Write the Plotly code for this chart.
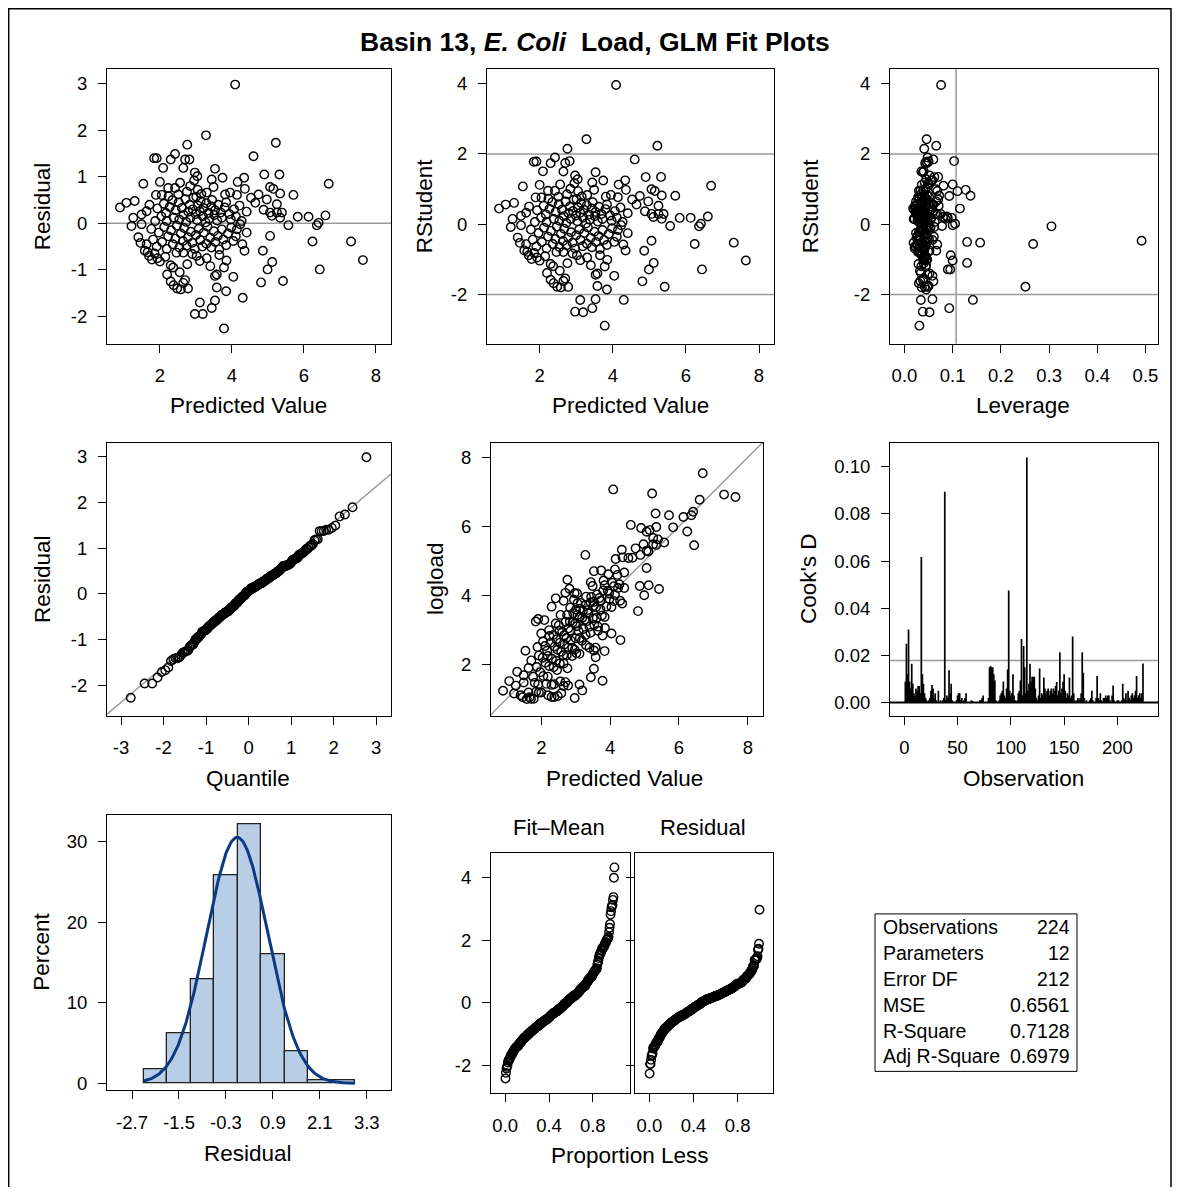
import numpy as np
import plotly.graph_objects as go
from statistics import NormalDist

OFF = 8                      # page margin of the browser body
W, H = 1181 - OFF, 1195 - 2 * OFF
FONT = "Liberation Sans, Arial, sans-serif"

# ---------------- data ----------------
predicted = [
    # residual >= 1.2
    4.09, 3.28, 2.76, 5.22, 4.60, 1.84, 1.91, 2.30, 2.42, 2.70, 2.82,
    # residual 0.6 .. 1.2
    2.09, 2.65, 2.97, 3.04, 3.53, 3.74, 3.44, 4.90, 5.32, 4.34, 4.16, 6.69,
    1.54, 2.00, 2.56, 2.23, 2.42, 2.84, 3.49, 4.36, 5.06, 5.15, 5.71, 5.34,
    3.81, 3.95, 4.14, 4.74, 1.89, 2.05, 2.51, 2.75, 3.05, 3.30, 2.95, 3.15,
    # residual 0 .. 0.6
    0.89, 1.07, 1.30, 4.65, 4.97, 5.25, 4.88, 5.06, 5.25, 5.39, 5.11, 5.34,
    5.83, 6.13, 6.60, 6.41, 1.26, 1.49, 1.63,
    1.87, 1.93, 2.04, 2.11, 2.17, 2.19, 2.27, 2.35, 2.39, 2.44, 2.52, 2.54,
    2.61, 2.66, 2.71, 2.73, 2.79, 2.83, 2.85, 2.91, 2.93, 2.99, 3.03, 3.05,
    3.11, 3.13, 3.19, 3.21, 3.27, 3.29, 3.35, 3.37, 3.43, 3.45, 3.51, 3.53,
    3.59, 3.62, 3.69, 3.72, 3.80, 3.84, 3.93, 3.97, 4.06, 4.11, 4.21, 4.27,
    4.41, 4.53, 1.71, 2.24, 3.01,
    # residual -0.6 .. 0
    5.57, 6.36, 1.21, 1.49, 6.24, 7.31, 4.41, 4.14, 4.23, 5.06, 4.35, 4.86,
    1.40, 1.46, 1.63, 1.58,
    1.76, 1.81, 1.91, 1.97, 2.06, 2.12, 2.19, 2.23, 2.31, 2.36, 2.43, 2.47,
    2.54, 2.58, 2.64, 2.67, 2.74, 2.78, 2.86, 2.90, 2.97, 3.00, 3.08, 3.12,
    3.18, 3.22, 3.29, 3.32, 3.40, 3.43, 3.50, 3.54, 3.61, 3.65, 3.72, 3.76,
    3.84, 3.89, 3.98, 4.04, 4.11, 4.29,
    # residual -1.2 .. -0.6
    2.37, 2.76, 3.53, 3.58, 3.78, 4.04, 5.12, 4.99, 6.44, 7.64, 2.46, 2.65,
    3.02, 3.11, 1.70, 1.78, 1.85, 1.93, 2.00, 1.66, 2.20, 2.30, 2.90, 3.30,
    3.40, 3.65, 3.85, 2.55, 2.15,
    # residual -1.8 .. -1.2
    3.11, 3.53, 3.84, 3.58, 4.30, 4.81, 5.42, 2.30, 2.38, 2.48, 2.58, 2.78,
    2.65, 2.70,
    # residual < -1.8
    3.78, 2.97, 3.19, 3.44,
]

residual = [
    2.98, 1.89, 1.69, 1.73, 1.44, 1.40, 1.40, 1.37, 1.49, 1.37, 1.37,
    1.19, 1.19, 1.09, 1.01, 1.17, 0.98, 0.94, 1.05, 1.05, 0.98, 0.89, 0.85,
    0.85, 0.89, 0.87, 0.76, 0.76, 0.80, 0.78, 0.74, 0.78, 0.74, 0.61, 0.64,
    0.62, 0.66, 0.61, 0.62, 0.61, 0.61, 0.62, 0.68, 0.72, 0.66, 0.92, 0.63,
    0.34, 0.44, 0.48, 0.44, 0.51, 0.41, 0.29, 0.23, 0.23, 0.23, 0.16, 0.12,
    0.14, 0.14, 0.17, 0.01, 0.12, 0.19, 0.26,
    0.05, 0.32, 0.15, 0.42, 0.22, 0.05, 0.35, 0.50, 0.12, 0.28, 0.45, 0.08,
    0.33, 0.18, 0.52, 0.03, 0.25, 0.40, 0.12, 0.30, 0.55, 0.20, 0.07, 0.38,
    0.26, 0.48, 0.15, 0.33, 0.02, 0.43, 0.22, 0.10, 0.36, 0.50, 0.18, 0.28,
    0.06, 0.40, 0.23, 0.12, 0.34, 0.45, 0.20, 0.08, 0.30, 0.15, 0.38, 0.05,
    0.25, 0.55, 0.40, 0.58, 0.57,
    -0.04, -0.04, -0.06, -0.02, -0.39, -0.39, -0.20, -0.13, -0.02, -0.27, -0.59, -0.59,
    -0.30, -0.42, -0.45, -0.59,
    -0.12, -0.35, -0.50, -0.20, -0.40, -0.08, -0.55, -0.28, -0.15, -0.45, -0.33, -0.05,
    -0.52, -0.22, -0.38, -0.10, -0.48, -0.30, -0.18, -0.42, -0.55, -0.25, -0.12, -0.36,
    -0.50, -0.20, -0.44, -0.07, -0.31, -0.52, -0.17, -0.40, -0.27, -0.56, -0.13, -0.35,
    -0.47, -0.22, -0.09, -0.38, -0.28, -0.45,
    -0.95, -0.88, -1.13, -1.10, -0.95, -1.15, -0.83, -0.99, -0.99, -0.79, -0.63, -0.63,
    -0.70, -0.81, -0.70, -0.78, -0.65, -0.75, -0.82, -0.62, -1.10, -0.90, -0.66, -0.75,
    -0.92, -0.68, -0.80, -1.05, -0.72,
    -1.70, -1.66, -1.46, -1.38, -1.60, -1.27, -1.24, -1.25, -1.33, -1.40, -1.42, -1.40,
    -1.28, -1.22,
    -2.26, -1.95, -1.95, -1.82,
]

leverage = [
    0.076, 0.046, 0.041, 0.066, 0.060, 0.045, 0.050, 0.043, 0.048, 0.047, 0.103,
    0.040, 0.035, 0.052, 0.045, 0.038, 0.055, 0.042, 0.062, 0.070, 0.058, 0.050, 0.081,
    0.048, 0.036, 0.100, 0.030, 0.033, 0.044, 0.039, 0.127, 0.065, 0.068, 0.137, 0.072,
    0.051, 0.047, 0.042, 0.093, 0.031, 0.028, 0.037, 0.034, 0.110, 0.041, 0.049, 0.036,
    0.115, 0.060, 0.052, 0.058, 0.066, 0.071, 0.060, 0.075, 0.064, 0.068, 0.080, 0.085,
    0.090, 0.098, 0.088, 0.105, 0.055, 0.045, 0.040,
    0.030, 0.025, 0.038, 0.022, 0.045, 0.033, 0.028, 0.041, 0.019, 0.036, 0.050, 0.027,
    0.032, 0.044, 0.024, 0.039, 0.029, 0.053, 0.021, 0.035, 0.047, 0.026, 0.031, 0.042,
    0.023, 0.037, 0.055, 0.020, 0.034, 0.046, 0.028, 0.040, 0.018, 0.033, 0.049, 0.026,
    0.038, 0.022, 0.043, 0.030, 0.057, 0.025, 0.036, 0.048, 0.027, 0.041, 0.032, 0.063,
    0.039, 0.070, 0.035, 0.029, 0.044,
    0.078, 0.305, 0.062, 0.050, 0.267, 0.157, 0.045, 0.040, 0.100, 0.492, 0.052, 0.066,
    0.048, 0.043, 0.038, 0.041,
    0.034, 0.029, 0.042, 0.024, 0.037, 0.046, 0.021, 0.032, 0.039, 0.027, 0.051, 0.035,
    0.023, 0.044, 0.030, 0.040, 0.026, 0.048, 0.033, 0.019, 0.038, 0.028, 0.045, 0.031,
    0.022, 0.041, 0.036, 0.054, 0.025, 0.043, 0.030, 0.047, 0.027, 0.039, 0.035, 0.058,
    0.032, 0.044, 0.050, 0.130, 0.061, 0.068,
    0.035, 0.040, 0.048, 0.052, 0.044, 0.058, 0.130, 0.095, 0.090, 0.100, 0.030, 0.028,
    0.036, 0.039, 0.042, 0.046, 0.033, 0.038, 0.041, 0.050, 0.034, 0.029, 0.037, 0.043,
    0.045, 0.096, 0.047, 0.032, 0.044,
    0.034, 0.058, 0.045, 0.050, 0.142, 0.060, 0.251, 0.038, 0.030, 0.042, 0.036, 0.048,
    0.033, 0.040,
    0.031, 0.038, 0.052, 0.093,
]

# Cook's D in observation order 1..224
cooks_d = [
    0.009, 0.025, 0.012, 0.031, 0.009, 0.006, 0.0165, 0.008, 0.004, 0.003, 0.006, 0.005, 0.007, 0.007, 0.004, 0.0617,
    0.012, 0.008, 0.004, 0.002, 0.001, 0.000, 0.001, 0.002, 0.005, 0.0075, 0.006, 0.002, 0.004, 0.001, 0.000, 0.005,
    0.000, 0.001, 0.000, 0.001, 0.002, 0.0894, 0.001, 0.003, 0.002, 0.0137, 0.004, 0.008, 0.001, 0.000, 0.000, 0.000,
    0.001, 0.003, 0.004, 0.004, 0.001, 0.002, 0.000, 0.001, 0.002, 0.004, 0.000, 0.000, 0.000, 0.000, 0.001, 0.0007,
    0.000, 0.000, 0.000, 0.000, 0.000, 0.000, 0.001, 0.001, 0.002, 0.003, 0.000, 0.000, 0.000, 0.000, 0.002, 0.015,
    0.0155, 0.015, 0.015, 0.012, 0.0094, 0.001, 0.000, 0.000, 0.001, 0.003, 0.004, 0.005, 0.009, 0.003, 0.002, 0.006,
    0.014, 0.0475, 0.005, 0.003, 0.004, 0.012, 0.003, 0.001, 0.000, 0.001, 0.004, 0.005, 0.0094, 0.027, 0.003, 0.024,
    0.015, 0.004, 0.104, 0.005, 0.008, 0.0165, 0.009, 0.011, 0.011, 0.011, 0.006, 0.002, 0.001, 0.003, 0.0145, 0.002,
    0.004, 0.003, 0.0106, 0.006, 0.004, 0.005, 0.006, 0.003, 0.005, 0.006, 0.004, 0.006, 0.005, 0.007, 0.0087, 0.003,
    0.005, 0.0214, 0.004, 0.006, 0.009, 0.012, 0.005, 0.002, 0.004, 0.003, 0.0106, 0.002, 0.003, 0.028, 0.004, 0.001,
    0.000, 0.001, 0.002, 0.001, 0.002, 0.004, 0.0214, 0.0127, 0.002, 0.000, 0.001, 0.000, 0.000, 0.001, 0.002, 0.005,
    0.001, 0.000, 0.000, 0.002, 0.0113, 0.002, 0.001, 0.004, 0.001, 0.000, 0.002, 0.002, 0.003, 0.002, 0.003, 0.003,
    0.001, 0.000, 0.003, 0.0073, 0.001, 0.000, 0.000, 0.001, 0.001, 0.000, 0.000, 0.001, 0.008, 0.002, 0.001, 0.004,
    0.001, 0.005, 0.002, 0.001, 0.003, 0.004, 0.002, 0.003, 0.005, 0.0113, 0.002, 0.003, 0.004, 0.002, 0.004, 0.0166,
]

n_params = 12
mse = 0.6561
stat_labels = ["Observations", "Parameters", "Error DF", "MSE", "R-Square", "Adj R-Square"]
stat_values = ["224", "12", "212", "0.6561", "0.7128", "0.6979"]
hist_ticks = [-2.7, -1.5, -0.3, 0.9, 2.1, 3.3]

# ---------------- derived statistics ----------------
pred = np.array(predicted)
res = np.array(residual)
lev = np.array(leverage)
n = len(res)
logload = pred + res
r_std = res / np.sqrt(mse * (1 - lev))
rstudent = r_std * np.sqrt((n - n_params - 1) / (n - n_params - r_std ** 2))
res_sorted = np.sort(res)
nd = NormalDist()
quant = np.array([nd.inv_cdf((i - 0.375) / (n + 0.25)) for i in range(1, n + 1)])
res_mean, res_sd = res.mean(), res.std(ddof=1)
prop = (np.arange(1, n + 1) - 0.5) / n
fit_mean_sorted = np.sort(pred - logload.mean())
obs = np.arange(1, len(cooks_d) + 1)
lev_cut = 2 * n_params / n
cook_cut = 4 / n

# ---------------- layout helpers (pixel positions are page pixels) ----------------
def px(x):
    return (x - OFF) / W

def py(y):
    return 1 - (y - OFF) / H

def dx(x0, x1):
    return [px(x0), px(x1)]

def dy(y0, y1):
    return [py(y1), py(y0)]

def axis(domain, rng, tickvals, anchor, decimals=0, labels=True):
    return dict(
        domain=domain, range=rng, anchor=anchor, showline=True, mirror=True,
        linecolor="black", linewidth=1, ticks="outside", ticklen=8, tickwidth=1,
        tickcolor="black", tickvals=tickvals,
        ticktext=[f"{v:.{decimals}f}" for v in tickvals],
        showticklabels=labels, ticklabelstandoff=7,
        tickfont=dict(family=FONT, size=18.5, color="black"),
        showgrid=False, zeroline=False, fixedrange=True,
    )

MK = dict(symbol="circle-open", size=8.5, color="black", line=dict(width=1.4, color="black"))
GRAY = "#9a9a9a"

fig = go.Figure()

# P1 residual vs predicted
fig.add_trace(go.Scatter(x=pred, y=res, mode="markers", marker=MK, xaxis="x", yaxis="y"))
# P2 rstudent vs predicted
fig.add_trace(go.Scatter(x=pred, y=rstudent, mode="markers", marker=MK, xaxis="x2", yaxis="y2"))
# P3 rstudent vs leverage
fig.add_trace(go.Scatter(x=lev, y=rstudent, mode="markers", marker=MK, xaxis="x3", yaxis="y3"))
# P4 Q-Q
X4 = [-3.33, 3.35]
fig.add_trace(go.Scatter(x=X4, y=[res_mean + res_sd * v for v in X4], mode="lines",
                         line=dict(color=GRAY, width=1.5), xaxis="x4", yaxis="y4"))
fig.add_trace(go.Scatter(x=quant, y=res_sorted, mode="markers", marker=MK, xaxis="x4", yaxis="y4"))
# P5 observed vs predicted
X5 = [0.4, 8.6]
fig.add_trace(go.Scatter(x=X5, y=X5, mode="lines", line=dict(color=GRAY, width=1.5),
                         xaxis="x5", yaxis="y5"))
fig.add_trace(go.Scatter(x=pred, y=logload, mode="markers", marker=MK, xaxis="x5", yaxis="y5"))
# P6 Cook's D needles
nx, ny = [], []
for o, d in zip(obs, cooks_d):
    nx += [o, o, None]
    ny += [0, d, None]
fig.add_trace(go.Scatter(x=nx, y=ny, mode="lines", line=dict(color="black", width=1.7),
                         xaxis="x6", yaxis="y6"))
# P7 histogram + normal curve
fig.add_trace(go.Histogram(x=res, xbins=dict(start=-2.4, end=3.0, size=0.6), histnorm="percent",
                           marker=dict(color="#B8CEE6", line=dict(color="#222222", width=1.3)),
                           xaxis="x7", yaxis="y7"))
xc = np.linspace(-2.4, 3.0, 200)
yc = [100 * 0.6 * NormalDist(res_mean, res_sd).pdf(v) for v in xc]
fig.add_trace(go.Scatter(x=xc, y=yc, mode="lines", line=dict(color="#0B3A82", width=3),
                         xaxis="x7", yaxis="y7"))
# P8 residual-fit spread
fig.add_trace(go.Scatter(x=prop, y=fit_mean_sorted, mode="markers", marker=MK, xaxis="x8", yaxis="y8"))
fig.add_trace(go.Scatter(x=prop, y=res_sorted, mode="markers", marker=MK, xaxis="x9", yaxis="y9"))

P1 = (107, 391, 69, 345); P2 = (487, 774, 69, 345); P3 = (890, 1158, 69, 345)
P4 = (107, 391, 444, 718); P5 = (491, 763, 444, 718); P6 = (890, 1158, 444, 718)
P7 = (107, 391, 818, 1094); P8a = (491, 630, 856, 1097); P8b = (635, 773, 856, 1097)

layout = dict(
    width=W, height=H, margin=dict(l=0, r=0, t=0, b=0), showlegend=False,
    paper_bgcolor="white", plot_bgcolor="white", font=dict(family=FONT, color="black"),
    bargap=0,
    xaxis=axis(dx(*P1[:2]), [0.53, 8.42], [2, 4, 6, 8], "y"),
    yaxis=axis(dy(*P1[2:]), [-2.59, 3.32], [-2, -1, 0, 1, 2, 3], "x"),
    xaxis2=axis(dx(*P2[:2]), [0.56, 8.41], [2, 4, 6, 8], "y2"),
    yaxis2=axis(dy(*P2[2:]), [-3.40, 4.42], [-2, 0, 2, 4], "x2"),
    xaxis3=axis(dx(*P3[:2]), [-0.030, 0.526], [0, 0.1, 0.2, 0.3, 0.4, 0.5], "y3", decimals=1),
    yaxis3=axis(dy(*P3[2:]), [-3.40, 4.42], [-2, 0, 2, 4], "x3"),
    xaxis4=axis(dx(*P4[:2]), [-3.33, 3.35], [-3, -2, -1, 0, 1, 2, 3], "y4"),
    yaxis4=axis(dy(*P4[2:]), [-2.65, 3.30], [-2, -1, 0, 1, 2, 3], "x4"),
    xaxis5=axis(dx(*P5[:2]), [0.54, 8.44], [2, 4, 6, 8], "y5"),
    yaxis5=axis(dy(*P5[2:]), [0.51, 8.43], [2, 4, 6, 8], "x5"),
    xaxis6=axis(dx(*P6[:2]), [-13.4, 238.1], [0, 50, 100, 150, 200], "y6"),
    yaxis6=axis(dy(*P6[2:]), [-0.0055, 0.1103], [0, 0.02, 0.04, 0.06, 0.08, 0.10], "x6", decimals=2),
    xaxis7=axis(dx(*P7[:2]), [-3.34, 3.92], hist_ticks, "y7", decimals=1),
    yaxis7=axis(dy(*P7[2:]), [-0.86, 33.3], [0, 10, 20, 30], "x7"),
    xaxis8=axis(dx(*P8a[:2]), [-0.13, 1.14], [0, 0.4, 0.8], "y8", decimals=1),
    yaxis8=axis(dy(*P8a[2:]), [-2.89, 4.79], [-2, 0, 2, 4], "x8"),
    xaxis9=axis(dx(*P8b[:2]), [-0.13, 1.12], [0, 0.4, 0.8], "y9", decimals=1),
    yaxis9=axis(dy(*P8b[2:]), [-2.89, 4.79], [-2, 0, 2, 4], "x9", labels=False),
)

shapes = []
def hline(xr, yr, y, color=GRAY, width=1.5):
    shapes.append(dict(type="line", xref=f"{xr} domain", x0=0, x1=1, yref=yr, y0=y, y1=y,
                       line=dict(color=color, width=width), layer="below"))
def vline(xr, yr, x, color=GRAY, width=1.5):
    shapes.append(dict(type="line", yref=f"{yr} domain", y0=0, y1=1, xref=xr, x0=x, x1=x,
                       line=dict(color=color, width=width), layer="below"))

hline("x", "y", 0)
hline("x2", "y2", 2); hline("x2", "y2", -2)
hline("x3", "y3", 2); hline("x3", "y3", -2); vline("x3", "y3", lev_cut)
hline("x6", "y6", cook_cut)
shapes.append(dict(type="line", xref="x6 domain", x0=0, x1=1, yref="y6", y0=0, y1=0,
                   line=dict(color="black", width=2)))

# statistics table box
tb = (875, 1077, 917, 1075)
shapes.append(dict(type="rect", xref="paper", yref="paper", x0=px(tb[0]), x1=px(tb[1]),
                   y0=py(tb[3]), y1=py(tb[2]), line=dict(color="black", width=1)))
# outer border (right edge kept inside the visible window)
shapes.append(dict(type="rect", xref="paper", yref="paper", x0=px(8.7), x1=px(1171),
                   y0=-0.02, y1=py(8.7), line=dict(color="black", width=1.5)))
layout["shapes"] = shapes

ann = []
def text(x, y, s, size=22.5, angle=0, xanchor="center"):
    ann.append(dict(xref="paper", yref="paper", x=px(x), y=py(y), text=s, showarrow=False,
                    textangle=angle, xanchor=xanchor, yanchor="middle",
                    font=dict(family=FONT, size=size, color="black")))

text(595, 42, "<b>Basin 13, <i>E. Coli</i>  Load, GLM Fit Plots</b>", size=26.5)
text(248, 407, "Predicted Value"); text(42, 207, "Residual", angle=-90)
text(630, 407, "Predicted Value"); text(424, 207, "RStudent", angle=-90)
text(1023, 407, "Leverage"); text(810, 207, "RStudent", angle=-90)
text(248, 781, "Quantile"); text(42, 581, "Residual", angle=-90)
text(624, 781, "Predicted Value"); text(435, 581, "logload", angle=-90)
text(1023, 781, "Observation"); text(808, 581, "Cook's D", angle=-90)
text(248, 1157, "Residual"); text(42, 955, "Percent", angle=-90)
text(630, 1159, "Proportion Less")
text(559, 830, "Fit\u2013Mean", size=22); text(703, 830, "Residual", size=22)
for i, (lab, val) in enumerate(zip(stat_labels, stat_values)):
    yy = 930 + 26 * i
    text(881, yy, lab, size=19.5, xanchor="left")
    text(1072, yy, val, size=19.5, xanchor="right")
layout["annotations"] = ann

fig.update_layout(**layout)
fig.write_html("out.html")
